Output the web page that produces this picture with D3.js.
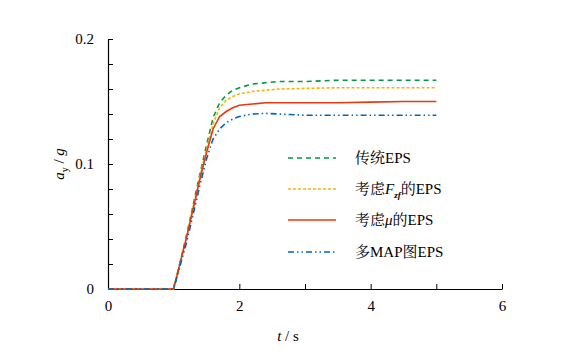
<!DOCTYPE html>
<html><head><meta charset="utf-8">
<script src="https://cdn.jsdelivr.net/npm/d3@7"></script>
<style>
body{margin:0;background:#fff;}
svg text{font-family:'Times New Roman','Liberation Serif','Noto Serif CJK SC',serif;}
#warm{position:absolute;left:0;top:0;color:#fff;font-size:15px;font-family:'Times New Roman','Liberation Serif','Noto Serif CJK SC',serif;z-index:-1;}
#c{position:absolute;left:0;top:0;}
</style>
</head><body>
<div id="warm">0.1 2 4 6 EPS MAP 传统考虑的多图 <i>a g t F zf μ</i></div>
<svg id="c" width="565" height="355"></svg>
<script>
const tVals = [0, 1, 1.2, 1.4, 1.5, 1.6, 1.7, 1.8, 1.9, 2.0, 2.2, 2.4, 2.6, 3, 3.5, 4, 4.5, 5];
const traditional = [0, 0, 0.044, 0.092, 0.115, 0.137, 0.149, 0.155, 0.159, 0.161, 0.164, 0.165, 0.166, 0.166, 0.167, 0.167, 0.167, 0.167];
const withFzf     = [0, 0, 0.043, 0.090, 0.112, 0.132, 0.145, 0.151, 0.154, 0.156, 0.158, 0.159, 0.160, 0.1605, 0.161, 0.161, 0.161, 0.161];
const withMu      = [0, 0, 0.042, 0.088, 0.109, 0.128, 0.138, 0.142, 0.145, 0.147, 0.148, 0.149, 0.149, 0.149, 0.149, 0.1495, 0.150, 0.150];
const multiMap    = [0, 0, 0.038, 0.083, 0.104, 0.120, 0.128, 0.133, 0.136, 0.138, 0.140, 0.1405, 0.140, 0.139, 0.139, 0.139, 0.139, 0.139];
const xTicks = [0, 1, 2, 3, 4, 5, 6];
const xTickLabels = ["0", "", "2", "", "4", "", "6"];
const yMajor = [0, 0.1, 0.2];
const yMinor = [0.02, 0.04, 0.06, 0.08, 0.12, 0.14, 0.16, 0.18];

const series = [
  {values: traditional, color: "#009944", dash: "5,4"},
  {values: withFzf, color: "#F7B500", dash: "3,2"},
  {values: withMu, color: "#E8380D", dash: null},
  {values: multiMap, color: "#0068B7", dash: "6,3,1.5,3,1.5,3"}
];

const svg = d3.select("#c");
svg.append("rect").attr("width",565).attr("height",355).attr("fill","#fff");
const x = d3.scaleLinear().domain([0, 6]).range([108, 502]);
const y = d3.scaleLinear().domain([0, 0.2]).range([289, 39]);

const xAxis = d3.axisBottom(x).tickValues(xTicks).tickFormat((d,i)=>xTickLabels[i]).tickSizeInner(-5).tickSizeOuter(0).tickPadding(11);
const gx = svg.append("g").attr("transform","translate(0,289)").call(xAxis);
const yAxis = d3.axisLeft(y).tickValues(yMajor.concat(yMinor)).tickFormat(d => yMajor.includes(d) ? (d===0?"0":d3.format(".1f")(d)) : "").tickSizeInner(-5).tickSizeOuter(0).tickPadding(14);
const gy = svg.append("g").attr("transform","translate(108,0)").call(yAxis);
[gx, gy].forEach(g => {
  g.attr("font-family", null).attr("font-size", 15);
  g.select(".domain").attr("stroke","#000").attr("stroke-width",1.2);
  g.selectAll(".tick line").attr("stroke","#000").attr("stroke-width",1);
  g.selectAll(".tick text").attr("fill","#000");
});

const line = d3.line().x((d,i)=>x(tVals[i])).y(d=>y(d));
series.forEach(s => {
  svg.append("path").datum(s.values).attr("d", line).attr("fill","none")
    .attr("stroke", s.color).attr("stroke-width", 1.6)
    .attr("stroke-dasharray", s.dash);
});

// legend
const legY = [158, 189, 220, 252];
series.forEach((s,i) => {
  svg.append("line").attr("x1",288).attr("x2",336).attr("y1",legY[i]).attr("y2",legY[i])
    .attr("stroke", s.color).attr("stroke-width",1.6).attr("stroke-dasharray", s.dash);
});
const lt = (i) => svg.append("text").attr("x",355).attr("y",legY[i]+5).attr("font-size",15).attr("fill","#000");
lt(0).text("传统EPS");
const t1 = lt(1);
t1.append("tspan").text("考虑");
t1.append("tspan").attr("font-style","italic").text("F");
t1.append("tspan").attr("font-size",9).attr("font-weight","bold").attr("font-style","italic").attr("dy",4).text("zf");
t1.append("tspan").attr("dy",-4).text("的EPS");
const t2 = lt(2);
t2.append("tspan").text("考虑");
t2.append("tspan").attr("font-style","italic").text("μ");
t2.append("tspan").text("的EPS");
lt(3).text("多MAP图EPS");

// axis titles
svg.append("text").attr("x",288).attr("y",341).attr("text-anchor","middle").attr("font-size",15)
  .html('<tspan font-style="italic">t</tspan> / s');
const yl = svg.append("text").attr("transform","translate(64,164) rotate(-90)").attr("text-anchor","middle").attr("font-size",15);
yl.append("tspan").attr("font-style","italic").text("a");
yl.append("tspan").attr("font-size",10).attr("dy",4).text("y");
yl.append("tspan").attr("dy",-4).text(" / ");
yl.append("tspan").attr("font-style","italic").text("g");
</script>
</body></html>
